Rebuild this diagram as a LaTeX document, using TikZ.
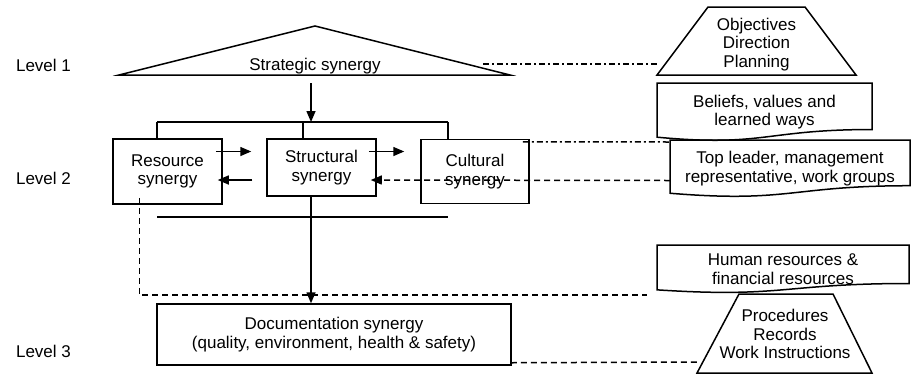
\documentclass[tikz,border=0pt]{standalone}
\usepackage{fontspec}
\setmainfont{Liberation Sans}
\usetikzlibrary{arrows.meta,calc}
% outline of a sheet with a wavy lower edge, drawn round a named node
\newcommand{\docsheet}[1]{%
  \draw (#1.north west) -- (#1.north east) -- ($(#1.north east)!0.802!(#1.south east)$)
    .. controls ($(#1.north)!0.802!(#1.south)$) and ($(#1.north)!1.107!(#1.south)$) .. ($(#1.north west)!0.934!(#1.south west)$) -- cycle;}

\begin{document}
\begin{tikzpicture}[x=1pt,y=-1pt,line width=1.5pt,
    every node/.style={font=\fontsize{17}{18.5}\selectfont},
    sbox/.style={draw,align=center,inner sep=2pt},
    dnode/.style={align=center,inner sep=0pt,outer sep=0pt},
    arr/.style={-{Triangle[length=11pt,width=9pt]}},
    dashdot/.style={dash pattern=on 6pt off 3pt on 2pt off 3pt}]
    \useasboundingbox (0,0) rectangle (912,376);

    \node[anchor=west] (lv1) at (12,65) {Level 1};
    \node[anchor=west] (lv2) at (12,178) {Level 2};
    \node[anchor=west] (lv3) at (12,351) {Level 3};

    % level 1
    \coordinate (tl) at (119,75);
    \coordinate (tt) at (315,26);
    \coordinate (tr) at (510,75);
    \draw (tl) -- (tt) -- (tr) -- cycle;
    \node (strat) at (315,66) {Strategic synergy};

    % level 2
    \node[sbox,minimum width=109pt,minimum height=65pt] (res) at (167.5,171.5) {Resource\\synergy};
    \node[sbox,minimum width=109pt,minimum height=57pt] (str) at (321.5,167.5) {Structural\\synergy};
    \node[sbox,minimum width=108pt,minimum height=64pt] (cul) at (475,171.5) {Cultural\\synergy};

    % level 3
    \node[sbox,minimum width=354pt,minimum height=61pt] (doc) at (334,334.5) {Documentation synergy\\(quality, environment, health \& safety)};

    % right column
    \coordinate (otl) at (708,7);
    \coordinate (otr) at (805,7);
    \coordinate (obr) at (856,75);
    \coordinate (obl) at (657,75);
    \draw (otl) -- (otr) -- (obr) -- (obl) -- cycle;
    \node[align=center] (obj) at (756.5,44.5) {Objectives\\Direction\\Planning};
    \node[dnode,minimum width=215pt,minimum height=58pt] (bel) at (764.5,112) {Beliefs, values and\\learned ways};
    \docsheet{bel}
    \node[dnode,minimum width=240pt,minimum height=57pt] (top) at (790,168.5) {Top leader, management\\representative, work groups};
    \docsheet{top}
    \node[dnode,minimum width=252pt,minimum height=48pt] (hum) at (783,269) {Human resources \&\\financial resources};
    \docsheet{hum}
    \coordinate (ptl) at (739,294);
    \coordinate (ptr) at (833,294);
    \coordinate (pbr) at (872,373);
    \coordinate (pbl) at (697,373);
    \draw (ptl) -- (ptr) -- (pbr) -- (pbl) -- cycle;
    \node[align=center] (proc) at (785,334) {Procedures\\Records\\Work Instructions};

    % bracket over and line under the level 2 boxes
    \coordinate (bl) at (157,122);
    \coordinate (bm) at (303,122);
    \coordinate (br) at (448,122);
    \draw (bl) -- (br);
    \draw (bl) -- (bl |- res.north);
    \draw (bm) -- (bm |- str.north);
    \draw (br) -- (br |- cul.north);
    \coordinate (ul) at (157,217);
    \coordinate (ur) at (448,217);
    \draw (ul) -- (ur);

    \coordinate (sa) at (311,83);
    \draw[arr] (sa) -- (sa |- bl);
    \draw[arr] ($(res.east)+(-7,-20)$) -- ($(str.west)+(-15,-16)$);
    \draw[arr] ($(str.west)+(-14,12.5)$) -- ($(res.east)+(-5,8.5)$);
    \draw[arr] ($(str.east)+(-8,-16)$) -- ($(cul.west)+(-16,-20)$);
    \coordinate (sd) at ($(str.south)+(-10.5,0)$);
    \draw[arr] (sd) -- (sd |- doc.north);

   \begin{scope}[dash pattern=on 6pt off 4pt]
    \draw[arr] ($(top.west)+(0,12)$) -- ($(str.east)+(-6,12.5)$);
    \draw ($(res.south)+(-28,-7)$) |- ($(hum.west)+(-10,26)$);
    \draw ($(doc.south east)+(-1,-3)$) -- ($(pbl)+(1,-11)$);
   \end{scope}

    \draw[dashdot] ($(tr)+(-27,-11)$) -- ($(obl)+(0,-11)$);
    \draw[dashdot] ($(cul.north east)+(-7,3)$) -- ($(top.north west)+(0,2)$);
\end{tikzpicture}
\end{document}
